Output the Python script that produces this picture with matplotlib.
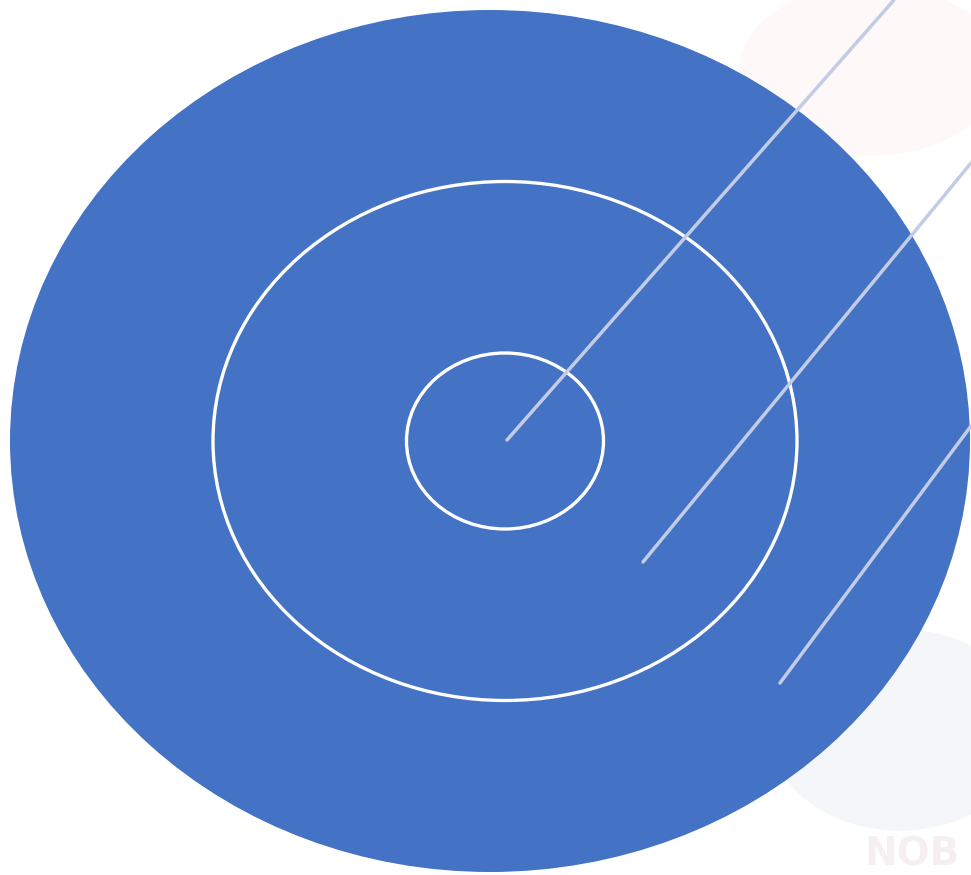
import matplotlib.pyplot as plt
from matplotlib.patches import Ellipse

# rings: centre x, centre y, width, height (picture units)
ring_names = ["outer", "middle", "inner"]
ring_cx = [490, 505, 505]
ring_cy = [441, 441, 441]
ring_w = [960, 584, 197]
ring_h = [862, 519, 176]

# leader lines: start point and end point
line_x0 = [507, 643, 780]
line_y0 = [440, 562, 683]
line_x1 = [894, 971, 971]
line_y1 = [0, 163, 426]

blue = "#4472C4"
leader = "#c3cce6"

fig = plt.figure(figsize=(9.71, 8.75), dpi=100)
ax = fig.add_axes([0, 0, 1, 1])
ax.set_xlim(0, 971)
ax.set_ylim(875, 0)
ax.axis("off")

# faint watermark behind the diagram
ax.add_patch(Ellipse((900, 730), 260, 200, color="#f5f6fa", zorder=0))
ax.add_patch(Ellipse((870, 70), 260, 170, color="#fef8f8", zorder=0))
ax.text(960, 873, "NOB", fontsize=28, fontweight="bold", color="#f6eff1",
        ha="right", va="bottom", zorder=0.5)

ax.add_patch(Ellipse((ring_cx[0], ring_cy[0]), ring_w[0], ring_h[0],
                     facecolor=blue, edgecolor="none", zorder=1))
for i in range(1, 3):
    ax.add_patch(Ellipse((ring_cx[i], ring_cy[i]), ring_w[i], ring_h[i],
                         facecolor="none", edgecolor="white", lw=2.4, zorder=2))

for x0, y0, x1, y1 in zip(line_x0, line_y0, line_x1, line_y1):
    ax.plot([x0, x1], [y0, y1], color=leader, lw=2.5,
            solid_capstyle="round", zorder=3)

fig.savefig("out.png", dpi=100)
